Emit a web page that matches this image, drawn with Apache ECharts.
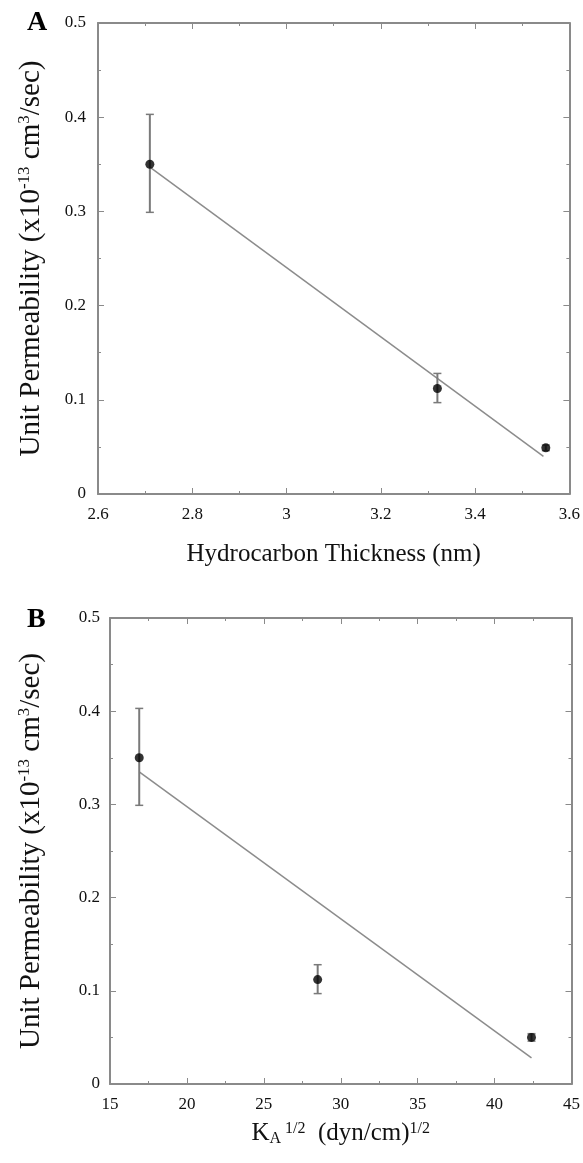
<!DOCTYPE html>
<html>
<head>
<meta charset="utf-8">
<script src="https://cdn.jsdelivr.net/npm/echarts@6/dist/echarts.min.js"></script>
<style>html,body{margin:0;padding:0;background:#fff;}#c{width:583px;height:1163px;}</style>
</head>
<body>
<div id="c"></div>
<script>
// Panel A data
const xA = [2.71, 3.32, 3.55];
const yA = [0.350, 0.112, 0.049];
const lowA = [0.299, 0.097, 0.046];
const highA = [0.403, 0.128, 0.052];
const fitXA = [2.71, 3.545];
const fitYA = [0.347, 0.040];
const xTicksA = [2.6, 3.6, 0.2];
// Panel B data
const xB = [16.9, 28.5, 42.4];
const yB = [0.350, 0.112, 0.050];
const lowB = [0.299, 0.097, 0.046];
const highB = [0.403, 0.128, 0.054];
const fitXB = [16.9, 42.4];
const fitYB = [0.335, 0.028];
const xTicksB = [15, 45, 5];
const yTicks = [0, 0.5, 0.1];

const AX = '#8a8a8a';
const FONT = '"Liberation Serif", "Times New Roman", serif';

function pairs(xs, ys) { return xs.map((x, i) => [x, ys[i]]); }
function errData(xs, ys, lo, hi) { return xs.map((x, i) => [x, ys[i], lo[i], hi[i]]); }

function xAxes(gi, t, name, nameGap, rich) {
  const base = {
    gridIndex: gi, type: 'value', min: t[0], max: t[1], interval: t[2],
    axisLine: { show: true, onZero: false, lineStyle: { color: AX, width: 2 } },
    axisTick: { show: true, inside: true, length: 6, lineStyle: { color: AX, width: 1 } },
    minorTick: { show: true, splitNumber: 2, length: 3, lineStyle: { color: AX, width: 1 } },
    splitLine: { show: false }
  };
  return [
    Object.assign({}, base, {
      position: 'bottom',
      axisLabel: { color: '#111', fontFamily: FONT, fontSize: 17, margin: 12 },
      name: name, nameLocation: 'middle', nameGap: nameGap,
      nameTextStyle: { color: '#111', fontFamily: FONT, fontSize: 25, rich: rich }
    }),
    Object.assign({}, base, { position: 'top', axisLabel: { show: false } })
  ];
}
function yAxes(gi, name, nameGap, margin) {
  const base = {
    gridIndex: gi, type: 'value', min: yTicks[0], max: yTicks[1], interval: yTicks[2],
    axisLine: { show: true, onZero: false, lineStyle: { color: AX, width: 2 } },
    axisTick: { show: true, inside: true, length: 6, lineStyle: { color: AX, width: 1 } },
    minorTick: { show: true, splitNumber: 2, length: 3, lineStyle: { color: AX, width: 1 } },
    splitLine: { show: false }
  };
  const supRich = {
    b: { fontFamily: FONT, fontSize: 29, color: '#111', verticalAlign: 'bottom', lineHeight: 30 },
    sup: { fontFamily: FONT, fontSize: 17, color: '#111', verticalAlign: 'top', lineHeight: 17, padding: [0, 0, 15, 0] }
  };
  return [
    Object.assign({}, base, {
      position: 'left',
      axisLabel: { color: '#111', fontFamily: FONT, fontSize: 17, margin: margin },
      name: name, nameLocation: 'middle', nameGap: nameGap, nameRotate: 90,
      nameTextStyle: { color: '#111', fontFamily: FONT, fontSize: 29, rich: supRich }
    }),
    Object.assign({}, base, { position: 'right', axisLabel: { show: false } })
  ];
}

const yName = '{b|Unit Permeability (x10}{sup|-13}{b| cm}{sup|3}{b|/sec)}';
const kRich = {
  b: { fontFamily: FONT, fontSize: 25, color: '#111', verticalAlign: 'middle', lineHeight: 26 },
  sup: { fontFamily: FONT, fontSize: 16, color: '#111', verticalAlign: 'top', lineHeight: 16, padding: [0, 0, 17, 0] },
  sub: { fontFamily: FONT, fontSize: 16, color: '#111', verticalAlign: 'bottom', lineHeight: 16, padding: [17, 0, 0, 0] }
};
const kName = '{b|K}{sub|A}{sup| 1/2}{b|  (dyn/cm)}{sup|1/2}';

function errSeries(xi, yi, data) {
  return {
    type: 'custom', xAxisIndex: xi, yAxisIndex: yi, data: data, z: 3,
    renderItem: function (params, api) {
      const x = api.value(0);
      const lo = api.coord([x, api.value(2)]);
      const hi = api.coord([x, api.value(3)]);
      const cap = 4;
      const st = { stroke: '#7a7a7a', lineWidth: 2 };
      const st2 = { stroke: '#7a7a7a', lineWidth: 1.5 };
      return {
        type: 'group', children: [
          { type: 'line', shape: { x1: lo[0], y1: lo[1], x2: hi[0], y2: hi[1] }, style: st },
          { type: 'line', shape: { x1: lo[0] - cap, y1: lo[1], x2: lo[0] + cap, y2: lo[1] }, style: st2 },
          { type: 'line', shape: { x1: hi[0] - cap, y1: hi[1], x2: hi[0] + cap, y2: hi[1] }, style: st2 }
        ]
      };
    }
  };
}

const chart = echarts.init(document.getElementById('c'), null, { renderer: 'canvas' });
chart.setOption({
  backgroundColor: '#fff',
  animation: false,
  title: [
    { text: 'A', left: 22, top: 4, textStyle: { fontFamily: FONT, fontSize: 28, fontWeight: 'bold', color: '#000' } },
    { text: 'B', left: 22, top: 601, textStyle: { fontFamily: FONT, fontSize: 28, fontWeight: 'bold', color: '#000' } }
  ],
  grid: [
    { left: 98, top: 23, width: 472, height: 471 },
    { left: 110, top: 618, width: 463, height: 466 }
  ],
  xAxis: [].concat(
    xAxes(0, xTicksA, 'Hydrocarbon Thickness (nm)', 48, null),
    xAxes(1, xTicksB, kName, 32, kRich)
  ),
  yAxis: [].concat(
    yAxes(0, yName, 52, 12),
    yAxes(1, yName, 64, 10)
  ),
  series: [
    { type: 'line', xAxisIndex: 0, yAxisIndex: 0, data: pairs(fitXA, fitYA), symbol: 'none',
      lineStyle: { color: '#8c8c8c', width: 1.5 }, z: 2 },
    errSeries(0, 0, errData(xA, yA, lowA, highA)),
    { type: 'scatter', xAxisIndex: 0, yAxisIndex: 0, data: pairs(xA, yA), symbolSize: 9,
      itemStyle: { color: '#000' }, z: 4 },
    { type: 'line', xAxisIndex: 2, yAxisIndex: 2, data: pairs(fitXB, fitYB), symbol: 'none',
      lineStyle: { color: '#8c8c8c', width: 1.5 }, z: 2 },
    errSeries(2, 2, errData(xB, yB, lowB, highB)),
    { type: 'scatter', xAxisIndex: 2, yAxisIndex: 2, data: pairs(xB, yB), symbolSize: 9,
      itemStyle: { color: '#000' }, z: 4 }
  ]
});
</script>
</body>
</html>
